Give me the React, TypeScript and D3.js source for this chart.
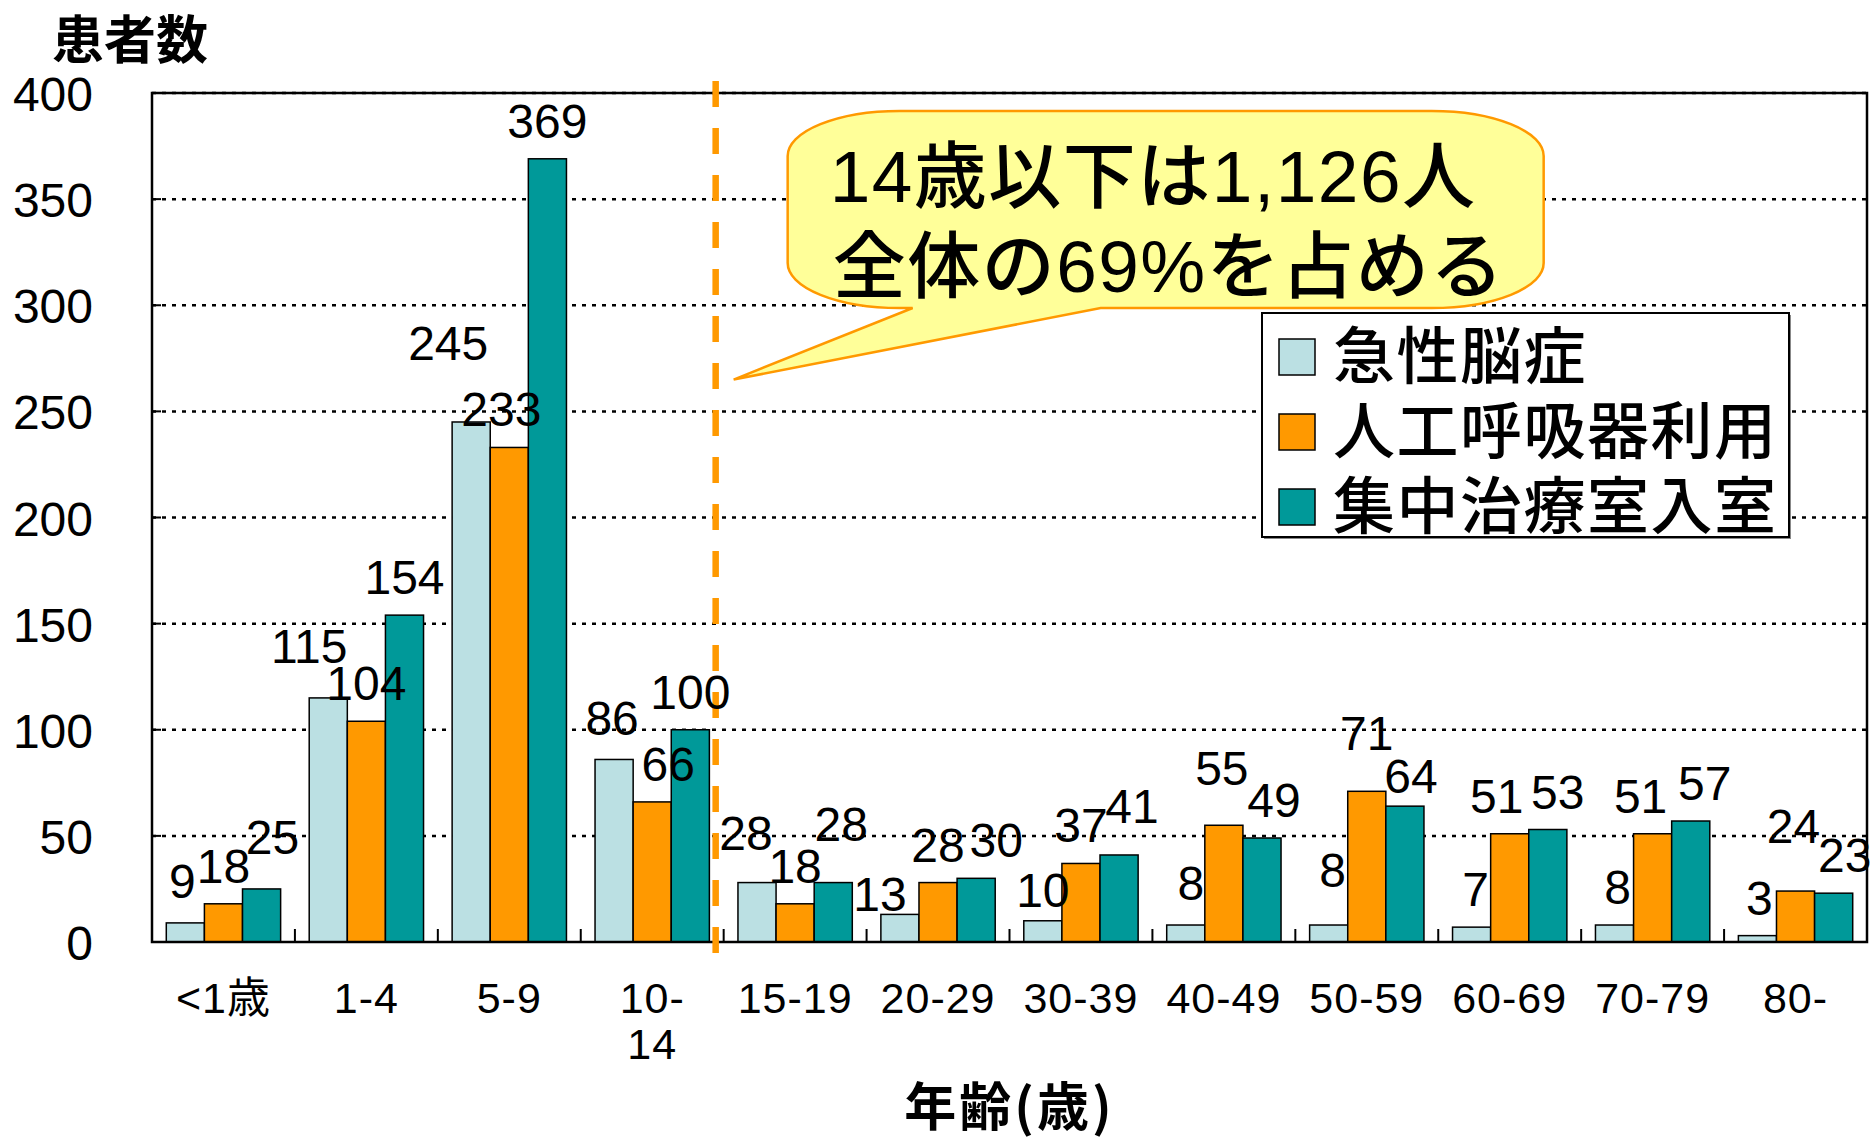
import React from 'react';
import * as d3 from 'd3';

// age groups (x axis)
const categories = ['<1歳', '1-4', '5-9', '10-14', '15-19', '20-29', '30-39', '40-49', '50-59', '60-69', '70-79', '80-'];
const tickLines = [['<1歳'], ['1-4'], ['5-9'], ['10-', '14'], ['15-19'], ['20-29'], ['30-39'], ['40-49'], ['50-59'], ['60-69'], ['70-79'], ['80-']];

// series values
const encephalopathy = [9, 115, 245, 86, 28, 13, 10, 8, 8, 7, 8, 3];
const ventilator = [18, 104, 233, 66, 18, 28, 37, 55, 71, 51, 51, 24];
const icu = [25, 154, 369, 100, 28, 30, 41, 49, 64, 53, 57, 23];

const seriesNames = ['急性脳症', '人工呼吸器利用', '集中治療室入室'];
const yTicks = [0, 50, 100, 150, 200, 250, 300, 350, 400];

// hand-placed data labels in the original: [dx, extra lift]
const nudgeEnc = [[-3, 4], [-19, 14], [-23, 41], [-2, 3], [-11, 12], [-20, -18], [0, -7], [5, 4], [4, 17], [4, 0], [3, 0], [2, 0]];
const nudgeVent = [[0, 0], [0, 0], [-8, 0], [16, 0], [0, 0], [0, 0], [0, 0], [-2, 19], [0, 20], [-13, 0], [-12, 0], [-2, 27]];
const nudgeIcu = [[11, 14], [0, 0], [0, 0], [0, 0], [8, 21], [20, 0], [13, 11], [12, 0], [6, -8], [10, 0], [14, 0], [11, 0]];

const colors = ['#BBE0E3', '#FF9900', '#009999'];
const FONT = "'Liberation Sans', Arial, 'Noto Sans CJK JP', sans-serif";
const CJK = "'Noto Sans CJK JP', 'Liberation Sans', sans-serif";

const W = 1874;
const H = 1138;
const margin = { top: 93, right: 7, bottom: 196, left: 152 };

export default function App() {
  const plotL = margin.left;
  const plotR = W - margin.right;
  const plotT = margin.top;
  const plotB = H - margin.bottom;

  const x0 = d3.scaleBand<string>().domain(categories).range([plotL, plotR]);
  const bw = x0.bandwidth();
  const x1 = d3.scaleBand<number>().domain([0, 1, 2]).range([bw * 0.1, bw * 0.9]);
  const y = d3.scaleLinear().domain([0, 400]).range([plotB, plotT]);

  const series = [encephalopathy, ventilator, icu];
  const nudges = [nudgeEnc, nudgeVent, nudgeIcu];

  const dashX = (x0('15-19') as number) - 8;

  // callout geometry
  const cL = dashX + 72, cR = dashX + 828, cT = plotT + 18, cB = plotT + 215;
  const rx = 112, ry = 45;
  const tipX = dashX + 18, tipY = y(265);
  const baseA = dashX + 197, baseB = dashX + 385;
  const callout = `M${cL + rx},${cT} H${cR - rx} A${rx},${ry} 0 0 1 ${cR},${cT + ry} V${cB - ry} A${rx},${ry} 0 0 1 ${cR - rx},${cB} H${baseB} L${tipX},${tipY} L${baseA},${cB} H${cL + rx} A${rx},${ry} 0 0 1 ${cL},${cB - ry} V${cT + ry} A${rx},${ry} 0 0 1 ${cL + rx},${cT} Z`;

  // legend
  const lg = { x: 1262, y: 313, w: 527, h: 224 };

  return (
    <svg width={W} height={H} style={{ position: 'absolute', left: 0, top: 0, background: '#fff' }} fontFamily={FONT}>
      {/* gridlines */}
      {yTicks.filter(t => t > 0).map(t => (
        <g key={t}>
          <line x1={plotL} x2={plotR} y1={y(t)} y2={y(t)} stroke="#000" strokeWidth={2.5} strokeDasharray="4,6" />
          <line x1={plotL} x2={plotL + 9} y1={y(t)} y2={y(t)} stroke="#000" strokeWidth={2} />
        </g>
      ))}

      {/* bars */}
      {series.map((vals, s) => vals.map((v, i) => (
        <rect key={`${s}-${i}`} x={(x0(categories[i]) as number) + (x1(s) as number)} y={y(v)}
          width={x1.bandwidth()} height={plotB - y(v)} fill={colors[s]} stroke="#000" strokeWidth={1.5} />
      )))}

      {/* x ticks between groups */}
      {categories.slice(1).map(c => (
        <line key={c} x1={x0(c)} x2={x0(c)} y1={plotB} y2={plotB - 13} stroke="#000" strokeWidth={2} />
      ))}

      {/* frame */}
      <rect x={plotL} y={plotT} width={plotR - plotL} height={plotB - plotT} fill="none" stroke="#000" strokeWidth={2.5} />

      {/* callout */}
      <path d={callout} fill="#FFFF99" stroke="#FF9900" strokeWidth={2.5} strokeLinejoin="miter" />
      <g fontFamily={FONT} fontSize={73} fontWeight={500} fill="#000" letterSpacing={1.5}>
        <text x={cL + 42} y={cT + 91}>14歳以下は1,126人</text>
        <text x={cL + 45} y={cT + 181}>全体の69%を占める</text>
      </g>

      {/* dashed divider */}
      <line x1={dashX} x2={dashX} y1={plotT - 12} y2={plotB + 15} stroke="#FF9900" strokeWidth={6.5} strokeDasharray="26,21" />

      {/* data labels */}
      {series.map((vals, s) => vals.map((v, i) => {
        const [dx, lift] = nudges[s][i];
        const cx = (x0(categories[i]) as number) + (x1(s) as number) + x1.bandwidth() / 2 + dx;
        return (
          <text key={`l${s}-${i}`} x={cx} y={y(v) - 21 - lift} textAnchor="middle" fontSize={48} fill="#000">{v}</text>
        );
      }))}

      {/* y axis labels */}
      {yTicks.map(t => (
        <text key={t} x={plotL - 59} y={y(t) + 18} textAnchor="end" fontSize={48} fill="#000">{t}</text>
      ))}

      {/* x axis labels */}
      {categories.map((c, i) => (
        <text key={c} x={(x0(c) as number) + bw / 2} y={plotB + 71} textAnchor="middle" fontSize={43} letterSpacing={1} fill="#000">
          {tickLines[i].map((ln, k) => (
            <tspan key={k} x={(x0(c) as number) + bw / 2} dy={k === 0 ? 0 : 46}>{ln}</tspan>
          ))}
        </text>
      ))}

      {/* axis titles */}
      <text x={52} y={59} fontFamily={CJK} fontSize={52} fontWeight={700} fill="#000">患者数</text>
      <text x={(plotL + plotR) / 2} y={1126} textAnchor="middle" fontFamily={CJK} fontSize={52} fontWeight={700} letterSpacing={3} fill="#000">年齢(歳)</text>

      {/* legend */}
      <rect x={lg.x + 2} y={lg.y + 2} width={lg.w} height={lg.h} fill="#888" />
      <rect x={lg.x} y={lg.y} width={lg.w} height={lg.h} fill="#fff" stroke="#000" strokeWidth={2} />
      {seriesNames.map((n, s) => (
        <g key={n} transform={`translate(${lg.x}, ${lg.y + 44 + s * 75})`}>
          <rect x={17} y={-18} width={36} height={36} fill={colors[s]} stroke="#000" strokeWidth={1.5} />
          <text x={71} y={22} fontFamily={CJK} fontSize={62} fontWeight={500} letterSpacing={1.5} fill="#000">{n}</text>
        </g>
      ))}
    </svg>
  );
}
